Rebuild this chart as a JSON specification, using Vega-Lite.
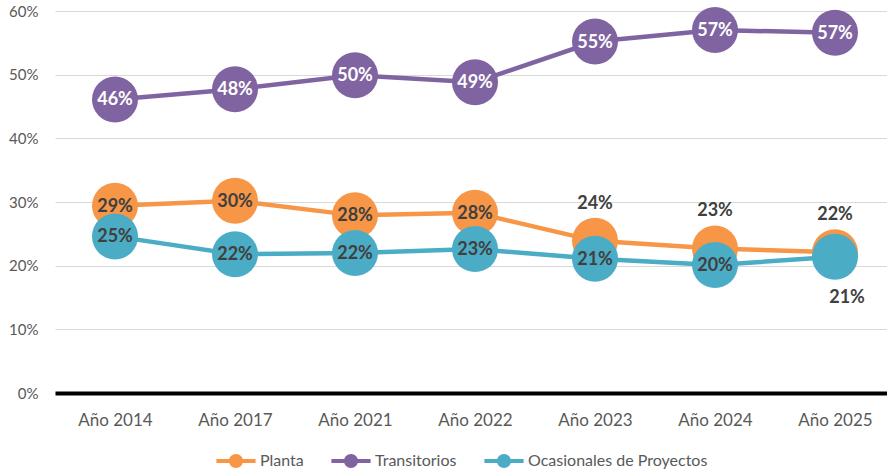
{
  "$schema": "https://vega.github.io/schema/vega-lite/v6.json",
  "autosize": "none",
  "width": 840,
  "height": 382,
  "padding": {"left": 55, "top": 11, "right": 0, "bottom": 83},
  "background": "white",
  "config": {
    "view": {"stroke": null},
    "font": "Lato"
  },
  "data": {
    "values": [
      {"year": "Año 2014", "series": "Planta", "value": 0.294},
      {"year": "Año 2017", "series": "Planta", "value": 0.302},
      {"year": "Año 2021", "series": "Planta", "value": 0.279},
      {"year": "Año 2022", "series": "Planta", "value": 0.283},
      {"year": "Año 2023", "series": "Planta", "value": 0.239},
      {"year": "Año 2024", "series": "Planta", "value": 0.227},
      {"year": "Año 2025", "series": "Planta", "value": 0.221},
      {"year": "Año 2014", "series": "Transitorios", "value": 0.461},
      {"year": "Año 2017", "series": "Transitorios", "value": 0.477},
      {"year": "Año 2021", "series": "Transitorios", "value": 0.499},
      {"year": "Año 2022", "series": "Transitorios", "value": 0.488},
      {"year": "Año 2023", "series": "Transitorios", "value": 0.552},
      {"year": "Año 2024", "series": "Transitorios", "value": 0.570},
      {"year": "Año 2025", "series": "Transitorios", "value": 0.566},
      {"year": "Año 2014", "series": "Ocasionales de Proyectos", "value": 0.246},
      {"year": "Año 2017", "series": "Ocasionales de Proyectos", "value": 0.218},
      {"year": "Año 2021", "series": "Ocasionales de Proyectos", "value": 0.220},
      {"year": "Año 2022", "series": "Ocasionales de Proyectos", "value": 0.226},
      {"year": "Año 2023", "series": "Ocasionales de Proyectos", "value": 0.211},
      {"year": "Año 2024", "series": "Ocasionales de Proyectos", "value": 0.201},
      {"year": "Año 2025", "series": "Ocasionales de Proyectos", "value": 0.214}
    ]
  },
  "encoding": {
    "x": {
      "field": "year", "type": "nominal",
      "sort": ["Año 2014", "Año 2017", "Año 2021", "Año 2022", "Año 2023", "Año 2024", "Año 2025"],
      "scale": {"type": "point", "padding": 0.5},
      "axis": {
        "title": null, "labelAngle": 0, "labelFontSize": 17, "labelColor": "#595959",
        "labelPadding": 19, "ticks": false, "domainColor": "#000000", "domainWidth": 4,
        "grid": false, "labelFont": "Lato"
      }
    },
    "y": {
      "field": "value", "type": "quantitative",
      "scale": {"domain": [0, 0.6], "nice": false},
      "axis": {
        "title": null, "format": ".0%", "values": [0, 0.1, 0.2, 0.3, 0.4, 0.5, 0.6],
        "labelFontSize": 15, "labelColor": "#595959", "labelPadding": 17,
        "ticks": false, "domain": false, "gridColor": "#d9d9d9", "gridWidth": 1.2
      }
    },
    "color": {
      "field": "series", "type": "nominal",
      "scale": {"domain": ["Planta", "Transitorios", "Ocasionales de Proyectos"], "range": ["#F79646", "#8064A2", "#4BACC6"]},
      "legend": {
        "title": null, "orient": "none", "direction": "horizontal",
        "legendX": 160, "legendY": 442,
        "symbolType": "M-2.8,-0.3 L2.8,-0.3 L2.8,0.3 L-2.8,0.3 Z M-1,0 A1,1 0 1,1 1,0 A1,1 0 1,1 -1,0 Z",
        "symbolSize": 196, "symbolStrokeWidth": 0, "symbolOffset": 13,
        "labelOffset": 16, "labelFontSize": 16, "labelColor": "#595959", "labelFont": "Lato",
        "labelLimit": 300, "columnPadding": 26
      }
    }
  },
  "layer": [
    {
      "mark": {"type": "line", "strokeWidth": 4.5},
      "encoding": {"detail": {"field": "series"}}
    },
    {
      "mark": {"type": "point", "filled": true, "shape": "circle", "size": 2116, "opacity": 1}
    },
    {
      "transform": [{"filter": "datum.series == 'Transitorios'"}],
      "mark": {"type": "text", "fontSize": 18, "fontWeight": "bold", "baseline": "middle", "dy": 1},
      "encoding": {"text": {"field": "value", "type": "quantitative", "format": ".0%"}, "color": {"value": "#ffffff"}}
    },
    {
      "transform": [{"filter": "(datum.series == 'Planta' && indexof(['Año 2014','Año 2017','Año 2021','Año 2022'], datum.year) >= 0) || (datum.series == 'Ocasionales de Proyectos' && datum.year != 'Año 2025')"}],
      "mark": {"type": "text", "fontSize": 18, "fontWeight": "bold", "baseline": "middle", "dy": 1},
      "encoding": {"text": {"field": "value", "type": "quantitative", "format": ".0%"}, "color": {"value": "#404040"}}
    },
    {
      "transform": [{"filter": "datum.series == 'Planta' && indexof(['Año 2023','Año 2024','Año 2025'], datum.year) >= 0"}],
      "mark": {"type": "text", "fontSize": 18, "fontWeight": "bold", "baseline": "middle", "dy": -37},
      "encoding": {"text": {"field": "value", "type": "quantitative", "format": ".0%"}, "color": {"value": "#404040"}}
    },
    {
      "transform": [{"filter": "datum.series == 'Ocasionales de Proyectos' && datum.year == 'Año 2025'"}],
      "mark": {"type": "text", "fontSize": 18, "fontWeight": "bold", "baseline": "middle", "dx": 12, "dy": 41},
      "encoding": {"text": {"field": "value", "type": "quantitative", "format": ".0%"}, "color": {"value": "#404040"}}
    }
  ]
}
